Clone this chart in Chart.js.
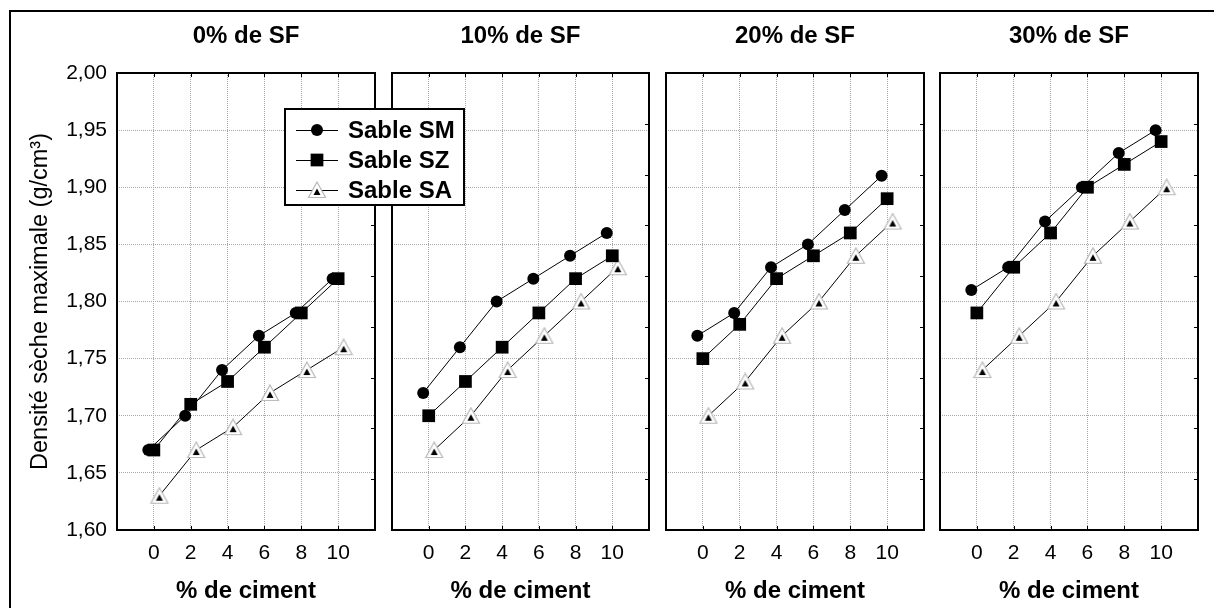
<!DOCTYPE html>
<html>
<head>
<meta charset="utf-8">
<script src="https://cdn.jsdelivr.net/npm/chart.js@4"></script>
<style>
	body { margin: 0; background: #fff; }
	#wrap { position: relative; width: 1214px; height: 608px; overflow: hidden; background: #fff; font-family: "Liberation Sans", Arial, sans-serif; }
	#frame { position: absolute; left: 9px; top: 10px; width: 1400px; height: 800px; border-left: 2px solid #000; border-top: 2px solid #000; }
	canvas.panel { position: absolute; top: 0; }
	#legend { position: absolute; left: 284px; top: 108px; width: 177px; height: 94px; border: 2px solid #000; background: #fff; z-index: 5; }
	#legend .row { position: absolute; left: 0; height: 30px; display: flex; align-items: center; }
	#legend canvas { margin-left: 10px; }
	#legend span { margin-left: 10px; font-weight: bold; font-size: 24px; color: #000; }
</style>
</head>
<body>
<div id="wrap">
	<div id="frame"></div>
	<canvas class="panel" id="p0"></canvas>
	<canvas class="panel" id="p1"></canvas>
	<canvas class="panel" id="p2"></canvas>
	<canvas class="panel" id="p3"></canvas>
	<div id="legend"></div>
</div>
<script>
// % de ciment
const cement = [0, 2, 4, 6, 8, 10];
const panelTitles = ["0% de SF", "10% de SF", "20% de SF", "30% de SF"];
const seriesNames = ["Sable SM", "Sable SZ", "Sable SA"];

// one row per panel (0, 10, 20, 30 % SF)
const sableSM = [
	[1.67, 1.70, 1.74, 1.77, 1.79, 1.82],
	[1.72, 1.76, 1.80, 1.82, 1.84, 1.86],
	[1.77, 1.79, 1.83, 1.85, 1.88, 1.91],
	[1.81, 1.83, 1.87, 1.90, 1.93, 1.95]
];
const sableSZ = [
	[1.67, 1.71, 1.73, 1.76, 1.79, 1.82],
	[1.70, 1.73, 1.76, 1.79, 1.82, 1.84],
	[1.75, 1.78, 1.82, 1.84, 1.86, 1.89],
	[1.79, 1.83, 1.86, 1.90, 1.92, 1.94]
];
const sableSA = [
	[1.63, 1.67, 1.69, 1.72, 1.74, 1.76],
	[1.67, 1.70, 1.74, 1.77, 1.80, 1.83],
	[1.70, 1.73, 1.77, 1.80, 1.84, 1.87],
	[1.74, 1.77, 1.80, 1.84, 1.87, 1.90]
];

const FONT = "'Liberation Sans', Arial, sans-serif";

// panel geometry (plot area left / width), shared top and bottom
const plotLeft = [117, 392, 666, 940];
const plotWidth = [258, 257, 258, 258];
const yAxisWidth = 105;
const sidePad = 12;

function triangleMarker() {
	const c = document.createElement("canvas");
	c.width = 20;
	c.height = 18;
	const g = c.getContext("2d");
	g.beginPath();
	g.moveTo(10, 1);
	g.lineTo(18.5, 16.5);
	g.lineTo(1.5, 16.5);
	g.closePath();
	g.fillStyle = "#fff";
	g.fill();
	g.strokeStyle = "#b8b8b8";
	g.lineWidth = 1.2;
	g.stroke();
	g.beginPath();
	g.moveTo(10, 7.5);
	g.lineTo(13.5, 14);
	g.lineTo(6.5, 14);
	g.closePath();
	g.fillStyle = "#000";
	g.fill();
	return c;
}

const triangle = triangleMarker();

const markers = [
	{ pointStyle: "circle", radius: 6, shift: -0.3, order: 1 },
	{ pointStyle: "rect", radius: 9, shift: 0, order: 0 },
	{ pointStyle: triangle, radius: 9, shift: 0.3, order: 2 }
];

const frame = {
	id: "frame",
	afterDraw(chart) {
		const { ctx, chartArea: a } = chart;
		const x = chart.scales.x;
		ctx.save();
		ctx.strokeStyle = "#000";
		ctx.lineWidth = 1;
		ctx.beginPath();
		cement.forEach(v => {
			const px = Math.round(x.getPixelForValue(v)) + 0.5;
			ctx.moveTo(px, a.top);
			ctx.lineTo(px, a.top + 4);
			ctx.moveTo(px, a.bottom);
			ctx.lineTo(px, a.bottom - 4);
		});
		for (let k = 1; k < 9; k++) {
			const py = Math.round(a.top + (a.bottom - a.top) * k / 9) + 0.5;
			ctx.moveTo(a.right, py);
			ctx.lineTo(a.right - 4, py);
		}
		ctx.stroke();
		ctx.lineWidth = 2;
		ctx.strokeRect(a.left, a.top, a.right - a.left, a.bottom - a.top);
		ctx.restore();
	}
};

function noSidePadding(s) {
	s.paddingLeft = 0;
	s.paddingRight = 0;
}

function makePanel(i) {
	const canvas = document.getElementById("p" + i);
	const yw = i === 0 ? yAxisWidth : sidePad;
	const left = plotLeft[i] - yw;
	canvas.width = yw + plotWidth[i] + sidePad;
	canvas.height = 608;
	canvas.style.left = left + "px";

	const all = [sableSM[i], sableSZ[i], sableSA[i]];

	new Chart(canvas, {
		type: "line",
		data: {
			datasets: all.map((values, s) => ({
				label: seriesNames[s],
				data: values.map((v, k) => ({ x: cement[k] + markers[s].shift, y: v })),
				borderColor: "#000",
				borderWidth: 1,
				pointStyle: markers[s].pointStyle,
				pointRadius: markers[s].radius,
				pointBackgroundColor: "#000",
				pointBorderColor: "#000",
				pointBorderWidth: 0,
				order: markers[s].order,
				tension: 0
			}))
		},
		options: {
			responsive: false,
			animation: false,
			devicePixelRatio: 1,
			events: [],
			layout: { padding: { left: 0, right: sidePad, top: 0, bottom: 0 } },
			plugins: {
				legend: { display: false },
				tooltip: { enabled: false }
			},
			scales: {
				x: {
					type: "linear",
					min: -2,
					max: 12,
					afterFit: s => { s.height = 78; noSidePadding(s); },
					border: { display: false, dash: [1, 1] },
					grid: { color: "#a8a8a8", drawTicks: false },
					ticks: {
						stepSize: 2,
						padding: 11,
						color: "#000",
						font: { family: FONT, size: 21 },
						callback: v => (v < 0 || v > 10 ? "" : v)
					},
					title: {
						display: true,
						text: "% de ciment",
						color: "#000",
						font: { family: FONT, size: 24, weight: "bold" },
						padding: { top: 0, bottom: 2.5 }
					}
				},
				top: {
					type: "linear",
					position: "top",
					min: -2,
					max: 12,
					afterFit: s => { s.height = 73; noSidePadding(s); },
					border: { display: false },
					grid: { display: false, drawTicks: false },
					ticks: { display: false },
					title: {
						display: true,
						text: panelTitles[i],
						color: "#000",
						font: { family: FONT, size: 24, weight: "bold" },
						padding: { top: 22, bottom: 0 }
					}
				},
				y: {
					min: 1.6,
					max: 2.0,
					afterFit: s => { s.width = yw; },
					border: { display: false, dash: [1, 1] },
					grid: { color: "#a8a8a8", drawTicks: false },
					ticks: {
						display: i === 0,
						stepSize: 0.05,
						padding: 10,
						color: "#000",
						font: { family: FONT, size: 21 },
						callback: v => v.toFixed(2).replace(".", ",")
					},
					title: {
						display: i === 0,
						text: "Densité sèche maximale (g/cm³)",
						color: "#000",
						font: { family: FONT, size: 23.5 },
						padding: { top: 14, bottom: 0 }
					}
				}
			}
		},
		plugins: [frame]
	});
}

panelTitles.forEach((_, i) => makePanel(i));

// legend box
const legend = document.getElementById("legend");
seriesNames.forEach((name, s) => {
	const row = document.createElement("div");
	row.className = "row";
	row.style.top = (5 + s * 30) + "px";
	const c = document.createElement("canvas");
	c.width = 42;
	c.height = 22;
	const g = c.getContext("2d");
	g.strokeStyle = "#000";
	g.lineWidth = 1;
	g.beginPath();
	g.moveTo(0, 11.5);
	g.lineTo(42, 11.5);
	g.stroke();
	g.fillStyle = "#000";
	Chart.helpers.drawPoint(g, {
		pointStyle: markers[s].pointStyle,
		radius: markers[s].radius,
		rotation: 0,
		borderWidth: 0
	}, 21, 11);
	const t = document.createElement("span");
	t.textContent = name;
	row.appendChild(c);
	row.appendChild(t);
	legend.appendChild(row);
});
</script>
</body>
</html>
